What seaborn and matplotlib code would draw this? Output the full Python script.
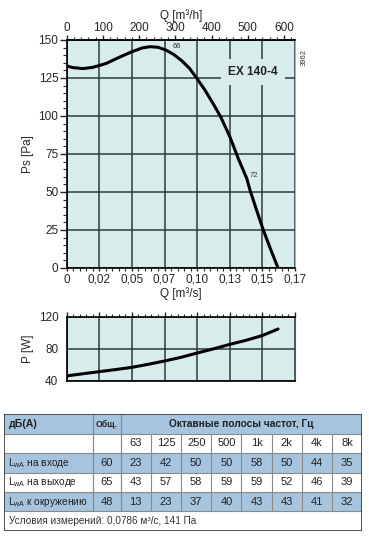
import numpy as np
import pandas as pd
import matplotlib
matplotlib.use("Agg")
import matplotlib.pyplot as plt
from matplotlib.ticker import MultipleLocator, FixedLocator, FixedFormatter
from matplotlib.patches import Rectangle
import seaborn as sns

# ---------------- data ----------------
q_ps = [0, 0.005, 0.0125, 0.02, 0.03, 0.04, 0.05, 0.058, 0.064, 0.07, 0.076, 0.082,
        0.088, 0.094, 0.1, 0.106, 0.112, 0.118, 0.125, 0.132, 0.138, 0.1405, 0.145,
        0.1507, 0.156, 0.162]
ps = [132.9, 131.8, 131.2, 132.0, 134.5, 138.5, 142.3, 144.8, 145.6, 145.2, 143.4, 140.5,
      136.5, 131.5, 124.5, 117.0, 108.5, 99.5, 86.5, 71.0, 59.0, 51.3, 39.5,
      25.0, 13.0, 0.0]
q_pw = [0, 0.0125, 0.025, 0.0375, 0.05, 0.0625, 0.075, 0.0875, 0.1, 0.1125, 0.125,
        0.1375, 0.15, 0.162]
pw = [46.0, 48.7, 51.3, 53.9, 56.7, 60.5, 64.6, 69.2, 74.6, 79.8, 85.4, 90.5, 96.5, 104.6]

q_ticks = [0, 0.025, 0.05, 0.075, 0.1, 0.125, 0.15, 0.175]
q_tick_labels = ["0", "0,02", "0,05", "0,07", "0,10", "0,13", "0,15", "0,17"]
qh_ticks = [0, 100, 200, 300, 400, 500, 600]
ps_ticks = [0, 25, 50, 75, 100, 125, 150]
pw_ticks = [40, 80, 120]

model = "EX 140-4"
curve_labels = ["66", "72"]

bands = ["63", "125", "250", "500", "1k", "2k", "4k", "8k"]
row_names = ["на входе", "на выходе", "к окружению"]
totals = [60, 65, 48]
inlet = [23, 42, 50, 50, 58, 50, 44, 35]
outlet = [43, 57, 58, 59, 59, 52, 46, 39]
surround = [13, 23, 37, 40, 43, 43, 41, 32]
footer = "Условия измерений: 0,0786 м³/с, 141 Па"

# ---------------- style ----------------
sns.set_style("white")
plt.rcParams["font.family"] = ["Liberation Sans", "DejaVu Sans"]
plt.rcParams["mathtext.fontset"] = "custom"
plt.rcParams["mathtext.rm"] = "Liberation Sans"
BG = "#d8ecec"
GRID = "#2e3b3b"
BLUE = "#a6c4de"
TXT = "#222222"
FS = 8.5
TFS = 7.3
NFS = 8.0

W, H = 369, 539
fig = plt.figure(figsize=(W / 100, H / 100), dpi=100)


def rect(l, t, r, b):
    return [l / W, 1 - b / H, (r - l) / W, (b - t) / H]


# ---------------- main Ps chart ----------------
ax = fig.add_axes(rect(66.7, 40, 295, 268))
ax.set_facecolor(BG)
df_ps = pd.DataFrame({"q": q_ps, "ps": ps})
sns.lineplot(data=df_ps, x="q", y="ps", ax=ax, color="black", lw=2.2, zorder=5)
ax.set_xlim(0, 0.175)
ax.set_ylim(0, 150)
ax.xaxis.set_major_locator(FixedLocator(q_ticks))
ax.xaxis.set_major_formatter(FixedFormatter(q_tick_labels))
ax.xaxis.set_minor_locator(MultipleLocator(0.005))
ax.yaxis.set_major_locator(FixedLocator(ps_ticks))
ax.yaxis.set_minor_locator(MultipleLocator(5))
ax.grid(True, which="major", color=GRID, lw=1.1, zorder=1)
ax.tick_params(axis="x", which="both", bottom=True, top=False, direction="out")
ax.tick_params(axis="x", which="major", length=2.5, width=1, labelsize=FS, pad=1.5)
ax.tick_params(axis="x", which="minor", length=1.8, width=0.8)
ax.tick_params(axis="y", which="both", left=True, right=False, direction="out")
ax.tick_params(axis="y", which="major", length=5, width=1, labelsize=FS, pad=1)
ax.tick_params(axis="y", which="minor", length=3, width=0.8)
ax.set_xlabel("Q [m³/s]", fontsize=FS, labelpad=1)
ax.set_ylabel("Ps [Pa]", fontsize=FS, labelpad=3)
for s in ["left", "bottom", "top"]:
    ax.spines[s].set_color("black")
    ax.spines[s].set_linewidth(1.2)
ax.spines["right"].set_color("#9aa")
ax.spines["right"].set_linewidth(0.6)

sec = ax.secondary_xaxis("top", functions=(lambda q: q * 3600, lambda h: h / 3600))
sec.xaxis.set_major_locator(FixedLocator(qh_ticks))
sec.xaxis.set_minor_locator(MultipleLocator(20))
sec.tick_params(which="major", direction="out", length=3.5, width=1, labelsize=FS, pad=1)
sec.tick_params(which="minor", direction="out", length=2.2, width=0.8)
sec.set_xlabel("Q [m³/h]", fontsize=FS, labelpad=2)
sec.spines["top"].set_linewidth(1.2)

ax.text(0.1428, 128.9, model, fontsize=8.6, fontweight="bold", color="#222",
        ha="center", va="center", zorder=4,
        bbox=dict(boxstyle="square,pad=0.6", fc=BG, ec="none"))
ax.text(0.0843, 146, curve_labels[0], fontsize=5.5, color="#333", ha="center", va="center", zorder=6)
ax.text(0.1438, 61, curve_labels[1], fontsize=5.5, color="#333", ha="center", va="center", zorder=6)
fig.text(304 / W, 1 - 57 / H, "3962", rotation=90, fontsize=5.5, ha="center", va="center", color="#333")

# ---------------- power chart ----------------
ax2 = fig.add_axes(rect(66.7, 316.7, 295, 380.7))
ax2.set_facecolor(BG)
df_pw = pd.DataFrame({"q": q_pw, "p": pw})
sns.lineplot(data=df_pw, x="q", y="p", ax=ax2, color="black", lw=2.2, zorder=5)
ax2.set_xlim(0, 0.175)
ax2.set_ylim(40, 120)
ax2.xaxis.set_major_locator(FixedLocator(q_ticks))
ax2.xaxis.set_minor_locator(MultipleLocator(0.005))
ax2.yaxis.set_major_locator(FixedLocator(pw_ticks))
ax2.yaxis.set_minor_locator(MultipleLocator(20))
ax2.grid(True, which="major", color=GRID, lw=1.1, zorder=1)
ax2.tick_params(axis="x", which="both", bottom=False, top=True, labelbottom=False,
                labeltop=False, direction="out")
ax2.tick_params(axis="x", which="major", length=3.5, width=1)
ax2.tick_params(axis="x", which="minor", length=2.2, width=0.8)
ax2.tick_params(axis="y", which="major", direction="out", length=5, width=1,
                labelsize=FS, pad=1)
ax2.tick_params(axis="y", which="minor", direction="out", length=3, width=0.8)
ax2.set_xlabel("")
ax2.set_ylabel("P [W]", fontsize=FS, labelpad=3)
for s in ["left", "bottom", "top"]:
    ax2.spines[s].set_color("black")
    ax2.spines[s].set_linewidth(1.2)
ax2.spines["right"].set_color("#555")
ax2.spines["right"].set_linewidth(0.8)

# ---------------- table ----------------
L, T, R, B = 4, 414.3, 362.3, 530.7
tx = fig.add_axes(rect(L, T, R, B))
tx.set_xlim(L, R)
tx.set_ylim(B, T)
tx.axis("off")
row_h = (B - T) / 6
ys = [T + i * row_h for i in range(7)]
c0, c1 = 92.7, 120.7
cw = (R - c1) / 8
xs = [c1 + i * cw for i in range(9)]
LINE = "#8a8a8a"

for i, filled in enumerate([True, False, True, False, True, False]):
    if filled:
        tx.add_patch(Rectangle((L, ys[i]), R - L, row_h, fc=BLUE, ec="none", zorder=0))
for y in ys[1:-1]:
    tx.plot([L, R], [y, y], color=LINE, lw=0.8, zorder=1)
for x in [c0, c1]:
    tx.plot([x, x], [T, ys[5]], color=LINE, lw=0.9, zorder=1)
for x in xs[1:-1]:
    tx.plot([x, x], [ys[1], ys[5]], color=LINE, lw=0.8, zorder=1)
tx.add_patch(Rectangle((L, T), R - L, B - T, fc="none", ec="#444", lw=1.3, zorder=3))


def cy(i):
    return (ys[i] + ys[i + 1]) / 2


kw = dict(color=TXT, va="center")
tx.text(9, cy(0), "дБ(А)", fontsize=TFS + 0.3, fontweight="bold", ha="left", **kw)
tx.text((c0 + c1) / 2, cy(0), "Общ.", fontsize=6.3, fontweight="bold", ha="center", **kw)
tx.text((c1 + R) / 2, cy(0), "Октавные полосы частот, Гц", fontsize=TFS, fontweight="bold",
        ha="center", **kw)
for j, b in enumerate(bands):
    tx.text((xs[j] + xs[j + 1]) / 2, cy(1), b, fontsize=NFS, ha="center", **kw)
for r, (name, tot, vals) in enumerate(zip(row_names, totals, [inlet, outlet, surround])):
    i = r + 2
    tx.text(8, cy(i), "L$_{\\mathregular{wA}}$ " + name, fontsize=TFS, ha="left", **kw)
    tx.text((c0 + c1) / 2, cy(i), str(tot), fontsize=NFS, ha="center", **kw)
    for j, v in enumerate(vals):
        tx.text((xs[j] + xs[j + 1]) / 2, cy(i), str(v), fontsize=NFS, ha="center", **kw)
tx.text(9, cy(5), footer, fontsize=7.2, ha="left", **{**kw, "color": "#333"})

fig.savefig("out.png", dpi=100)
